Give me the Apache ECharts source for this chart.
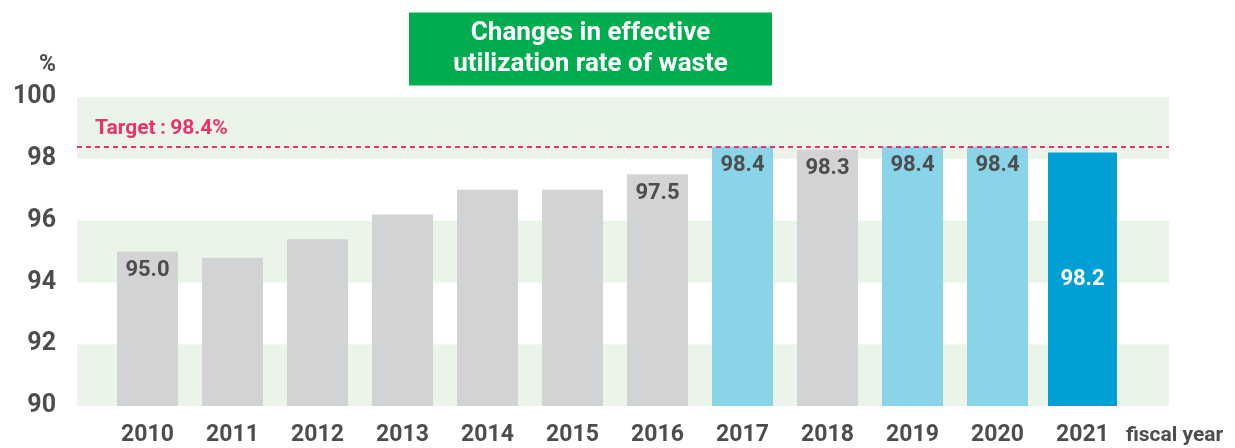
<!DOCTYPE html>
<html>
<head>
<meta charset="utf-8">
<script src="https://cdn.jsdelivr.net/npm/echarts@6/dist/echarts.min.js"></script>
<style>
  html, body { margin: 0; padding: 0; background: #fff; }
  #chart { width: 1235px; height: 448px; }
</style>
</head>
<body>
<div id="chart"></div>
<script>
// 数据
const years = ['2010', '2011', '2012', '2013', '2014', '2015', '2016', '2017', '2018', '2019', '2020', '2021'];
const rates = [95.0, 94.8, 95.4, 96.2, 97.0, 97.0, 97.5, 98.4, 98.3, 98.4, 98.4, 98.2];
const labeledYears = ['2010', '2016', '2017', '2018', '2019', '2020', '2021'];
const target = 98.4;
const yTicks = [90, 92, 94, 96, 98, 100];

const GREY = '#d1d3d5', LIGHT_BLUE = '#8ad4ea', DARK_BLUE = '#009fd4';
const TEXT = '#4d4d4d', PINK = '#e8336d';
const FONT = 'Roboto';

const last = years.length - 1;
const plotTop = 97, plotBottom = 42;

function barColor(i) {
  if (i === last) return DARK_BLUE;
  return rates[i] >= target ? LIGHT_BLUE : GREY;
}

const mainData = rates.map((v, i) => i === last ? '-' : {
  value: v,
  itemStyle: { color: barColor(i) },
  label: { show: labeledYears.includes(years[i]) },
});
const lastData = rates.map((v, i) => i === last ? v : '-');

const chart = echarts.init(document.getElementById('chart'), null, { renderer: 'canvas' });
chart.setOption({
  animation: false,
  title: {
    left: 409, top: 10, padding: [8, 0, 8, 0],
    backgroundColor: '#00ac4e',
    text: '{a|Changes in effective}\n{a|utilization rate of waste}',
    textStyle: {
      rich: { a: { width: 363, align: 'center', color: '#fff', fontFamily: FONT, fontWeight: 'bold', fontSize: 26, lineHeight: 31 } },
    },
  },
  grid: [
    // 背景色带
    { left: 77, right: 66, top: plotTop, bottom: plotBottom },
    // 柱子
    { left: 105, right: 110, top: plotTop, bottom: plotBottom },
  ],
  xAxis: [
    { gridIndex: 0, type: 'value', min: 0, max: 1, show: false },
    {
      gridIndex: 1, type: 'category', data: years,
      axisLine: { show: false }, axisTick: { show: false },
      axisLabel: { color: TEXT, fontFamily: FONT, fontWeight: 'bold', fontSize: 23, margin: 18 },
      name: 'fiscal year', nameLocation: 'end', nameGap: 1,
      nameTextStyle: { color: TEXT, fontFamily: FONT, fontWeight: 'bold', fontSize: 21, align: 'left', verticalAlign: 'top', padding: [19, 0, 0, 0] },
    },
    { gridIndex: 1, type: 'category', data: years, show: false },
  ],
  yAxis: [
    {
      gridIndex: 0, type: 'value', min: yTicks[0], max: yTicks[yTicks.length - 1], interval: 2,
      axisLine: { show: false }, axisTick: { show: false }, splitLine: { show: false },
      splitArea: { show: true, areaStyle: { color: ['#eaf4e8', '#ffffff'] } },
      axisLabel: { color: TEXT, fontFamily: FONT, fontWeight: 'bold', fontSize: 25, margin: 21 },
      name: '%', nameLocation: 'end', nameGap: 20,
      nameTextStyle: { color: TEXT, fontFamily: FONT, fontWeight: 'bold', fontSize: 23, align: 'right', padding: [0, 21, 0, 0] },
    },
    { gridIndex: 1, type: 'value', min: yTicks[0], max: yTicks[yTicks.length - 1], show: false },
  ],
  series: [
    {
      // 目标线
      type: 'line', xAxisIndex: 0, yAxisIndex: 0, data: [], silent: true,
      markLine: {
        symbol: 'none', silent: true,
        lineStyle: { color: PINK, type: [5, 4], width: 2 },
        label: {
          position: 'insideStartTop', distance: [18, 7],
          formatter: 'Target\u2009:\u2009' + target + '%',
          color: PINK, fontFamily: FONT, fontWeight: 'bold', fontSize: 21,
        },
        data: [{ yAxis: target }],
      },
    },
    {
      type: 'bar', xAxisIndex: 1, yAxisIndex: 1, barWidth: 61, data: mainData,
      label: {
        position: 'insideTop', distance: 8,
        color: TEXT, fontFamily: FONT, fontWeight: 'bold', fontSize: 22,
        formatter: (p) => p.value.toFixed(1),
      },
    },
    {
      type: 'bar', xAxisIndex: 2, yAxisIndex: 1, barWidth: 69, data: lastData,
      itemStyle: { color: DARK_BLUE },
      label: {
        show: true, position: 'inside',
        color: '#fff', fontFamily: FONT, fontWeight: 'bold', fontSize: 22,
        formatter: (p) => p.value.toFixed(1),
      },
    },
  ],
});
</script>
</body>
</html>
